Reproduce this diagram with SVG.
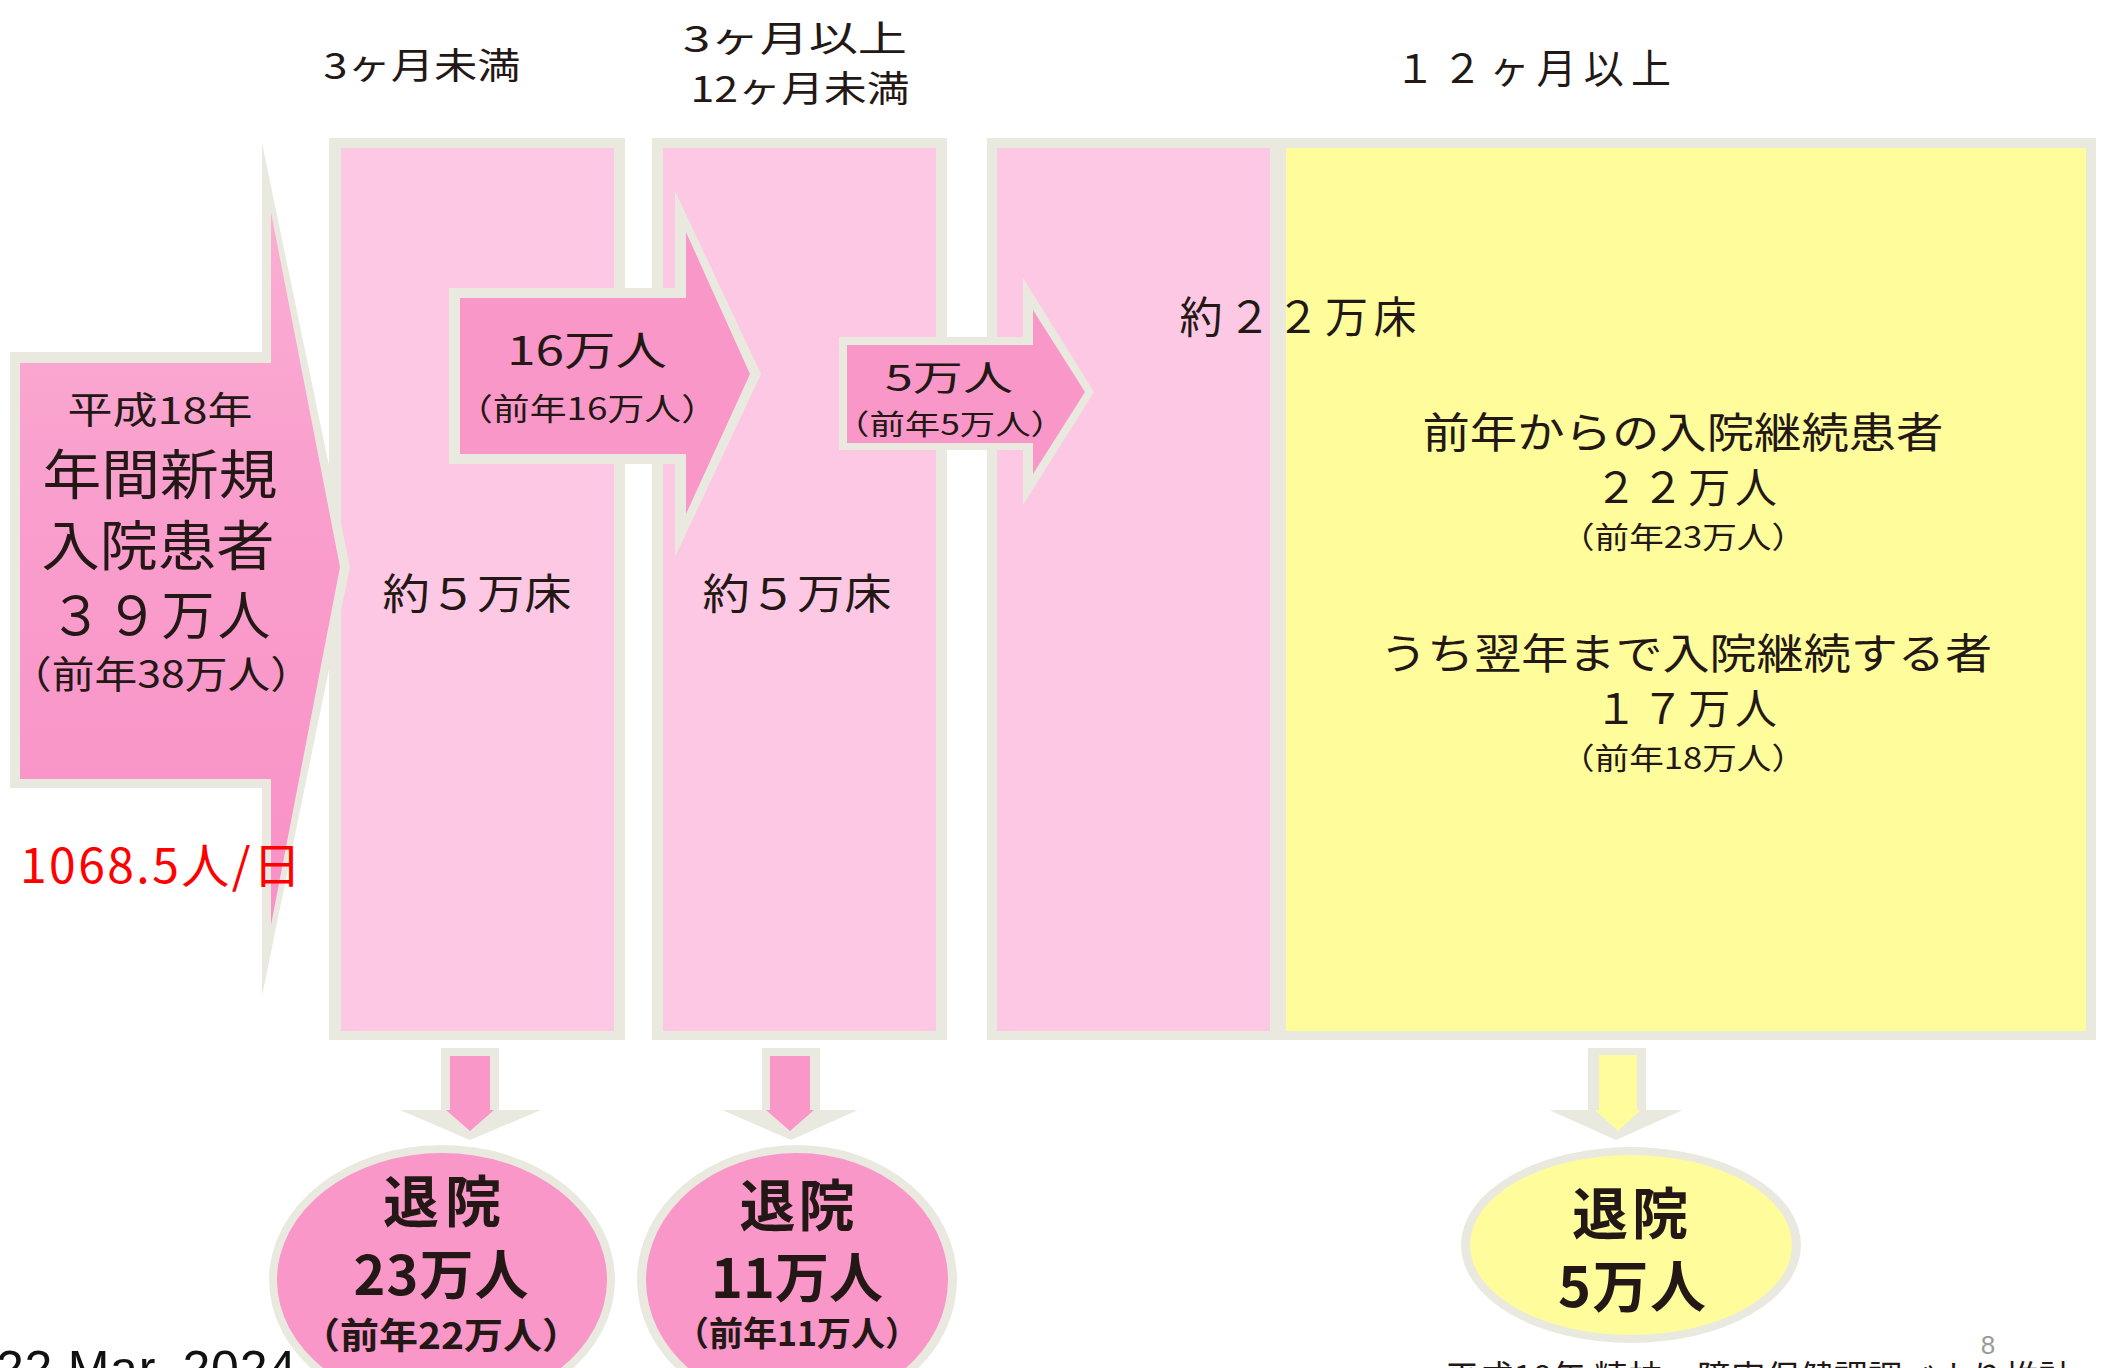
<svg xmlns="http://www.w3.org/2000/svg" width="2107" height="1368" viewBox="0 0 2107 1368">
<defs>
<linearGradient id="bigPink" x1="0" y1="143" x2="0" y2="996" gradientUnits="userSpaceOnUse">
<stop offset="0" stop-color="#fbb3d6"/>
<stop offset="0.4" stop-color="#f99fcd"/>
<stop offset="1" stop-color="#f98fc5"/>
</linearGradient>
<style>
.t{font-family:"Noto Sans CJK JP","Noto Sans",sans-serif;fill:#231815;text-anchor:middle}
.b{font-weight:bold}
.frame{fill:#eae9df}
.lpink{fill:#fdc8e3}
.pink{fill:#f997c8}
.yellow{fill:#fffc9c}
</style>
</defs>
<rect width="2107" height="1368" fill="#ffffff"/>

<!-- headings -->
<g id="headings">
<text class="t" x="422" y="79" font-size="36" textLength="197" lengthAdjust="spacingAndGlyphs">3ヶ月未満</text>
<text class="t" x="795" y="52" font-size="36" textLength="224" lengthAdjust="spacingAndGlyphs">3ヶ月以上</text>
<text class="t" x="800" y="102" font-size="36" textLength="219" lengthAdjust="spacingAndGlyphs">12ヶ月未満</text>
<text class="t" x="1533" y="83" font-size="40" textLength="276">１２ヶ月以上</text>
</g>

<!-- column nodes -->
<g id="col-under3">
<rect class="frame" x="329" y="138" width="296" height="902"/>
<rect class="lpink" x="341" y="148" width="273" height="883"/>
<text class="t" x="477" y="609" font-size="42" textLength="189" lengthAdjust="spacingAndGlyphs">約５万床</text>
</g>
<g id="col-3to12">
<rect class="frame" x="652" y="138" width="295" height="902"/>
<rect class="lpink" x="663" y="148" width="273" height="883"/>
<text class="t" x="797" y="609" font-size="42" textLength="189" lengthAdjust="spacingAndGlyphs">約５万床</text>
</g>
<g id="col-over12">
<rect class="frame" x="987" y="138" width="1109" height="902"/>
<rect class="lpink" x="997" y="148" width="273" height="883"/>
<rect class="yellow" x="1286" y="148" width="800" height="883"/>
<text class="t" x="1298" y="333" font-size="43" textLength="237">約２２万床</text>
<text class="t" x="1683" y="448" font-size="42" textLength="521" lengthAdjust="spacingAndGlyphs">前年からの入院継続患者</text>
<text class="t" x="1686" y="503" font-size="42" textLength="182">２２万人</text>
<text class="t" x="1683" y="548" font-size="30" textLength="246" lengthAdjust="spacingAndGlyphs">（前年23万人）</text>
<text class="t" x="1686" y="669" font-size="42" textLength="612" lengthAdjust="spacingAndGlyphs">うち翌年まで入院継続する者</text>
<text class="t" x="1686" y="724" font-size="42" textLength="182">１７万人</text>
<text class="t" x="1683" y="769" font-size="30" textLength="246" lengthAdjust="spacingAndGlyphs">（前年18万人）</text>
</g>

<!-- inflow node -->
<g id="new-admissions">
<polygon class="frame" points="10,352 262,352 262,143 350,567 262,996 262,788 10,788"/>
<polygon fill="url(#bigPink)" points="20,363 271,363 271,212 340,567 271,925 271,779 20,779"/>
<text class="t" x="160" y="424" font-size="37" textLength="185" lengthAdjust="spacingAndGlyphs">平成18年</text>
<text class="t" x="160" y="495" font-size="54" textLength="235" lengthAdjust="spacingAndGlyphs">年間新規</text>
<text class="t" x="158" y="566" font-size="54" textLength="233" lengthAdjust="spacingAndGlyphs">入院患者</text>
<text class="t" x="160" y="635" font-size="53" textLength="221">３９万人</text>
<text class="t" x="161" y="688" font-size="38" textLength="304" lengthAdjust="spacingAndGlyphs">（前年38万人）</text>
</g>

<g id="rate-note">
<text x="20" y="883" font-family="Noto Sans CJK JP, sans-serif" font-size="48" fill="#ff0000" textLength="281">1068.5人/日</text>
</g>

<!-- connectors -->
<g id="connectors">
<g id="flow-16">
<polygon class="frame" points="449,288 675,288 675,191 761,374 675,557 675,464 449,464"/>
<polygon class="pink" points="460,298 686,298 686,232 750,374 686,514 686,454 460,454"/>
<text class="t" x="587" y="365" font-size="40" textLength="160" lengthAdjust="spacingAndGlyphs">16万人</text>
<text class="t" x="587" y="420" font-size="31" textLength="262" lengthAdjust="spacingAndGlyphs">（前年16万人）</text>
</g>
<g id="flow-5">
<polygon class="frame" points="839,337 1023,337 1023,278 1094,392 1023,505 1023,450 839,450"/>
<polygon class="pink" points="847,345 1033,345 1033,310 1085,392 1033,474 1033,443 847,443"/>
<text class="t" x="949" y="391" font-size="35" textLength="128" lengthAdjust="spacingAndGlyphs">5万人</text>
<text class="t" x="950" y="435" font-size="28" textLength="232" lengthAdjust="spacingAndGlyphs">（前年5万人）</text>
</g>
<g id="down-1">
<polygon class="frame" points="441,1048 499,1048 499,1110 541,1110 470,1140 400,1110 441,1110"/>
<polygon class="pink" points="450,1056 490,1056 490,1110 494,1110 470,1131 446,1110 450,1110"/>
</g>
<g id="down-2">
<polygon class="frame" points="762,1048 820,1048 820,1110 858,1110 791,1140 722,1110 762,1110"/>
<polygon class="pink" points="770,1056 810,1056 810,1110 814,1110 790,1131 766,1110 770,1110"/>
</g>
<g id="down-3">
<polygon class="frame" points="1588,1048 1646,1048 1646,1110 1683,1110 1616,1140 1549,1110 1588,1110"/>
<polygon class="yellow" points="1599,1055 1637,1055 1637,1110 1641,1110 1618,1131 1595,1110 1599,1110"/>
</g>
</g>

<!-- discharge nodes -->
<g id="discharge-1">
<ellipse class="frame" cx="442" cy="1280" rx="173" ry="135"/>
<ellipse class="pink" cx="442" cy="1280" rx="165" ry="127"/>
<text class="t b" x="442" y="1222" font-size="56" textLength="118">退院</text>
<text class="t b" x="441" y="1295" font-size="54" textLength="175">23万人</text>
<text class="t b" x="441" y="1349" font-size="36" textLength="280" lengthAdjust="spacingAndGlyphs">（前年22万人）</text>
</g>
<g id="discharge-2">
<ellipse class="frame" cx="797" cy="1280" rx="160" ry="135"/>
<ellipse class="pink" cx="797" cy="1280" rx="151" ry="127"/>
<text class="t b" x="797" y="1226" font-size="56" textLength="115">退院</text>
<text class="t b" x="797" y="1298" font-size="54" textLength="172">11万人</text>
<text class="t b" x="797" y="1346" font-size="34" textLength="244" lengthAdjust="spacingAndGlyphs">（前年11万人）</text>
</g>
<g id="discharge-3">
<ellipse class="frame" cx="1631" cy="1245" rx="170" ry="98"/>
<ellipse class="yellow" cx="1631" cy="1245" rx="161" ry="90"/>
<text class="t b" x="1630" y="1234" font-size="56" textLength="116">退院</text>
<text class="t b" x="1632" y="1307" font-size="56" textLength="148">5万人</text>
</g>

<!-- footer -->
<g id="footer">
<text x="1988" y="1354" font-family="Liberation Sans, sans-serif" font-size="26" fill="#9a9a9a" text-anchor="middle">8</text>
<text x="-4" y="1386" font-family="Liberation Sans, sans-serif" font-size="50" fill="#111111" textLength="300">22 Mar. 2024</text>
<text x="1445" y="1390" font-family="Noto Sans CJK JP, sans-serif" font-size="34" fill="#231815" textLength="628">平成18年 精神・障害保健課調べより推計</text>
</g>
</svg>
